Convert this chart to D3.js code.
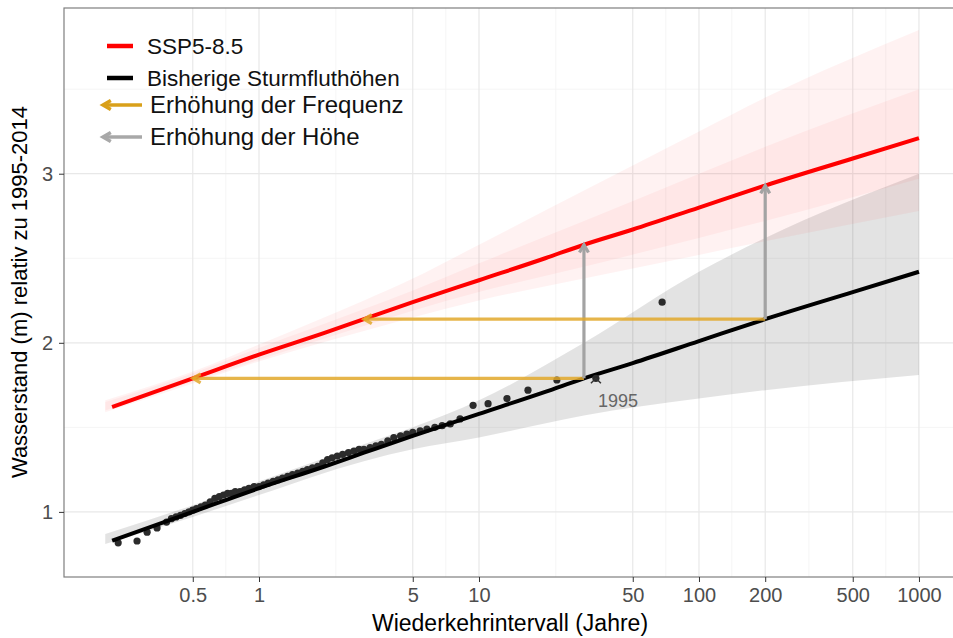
<!DOCTYPE html>
<html>
<head>
<meta charset="utf-8">
<script src="https://cdn.jsdelivr.net/npm/d3@7"></script>
<style>
  body { margin: 0; background: #fff; }
  text { font-family: "Liberation Sans", Arial, Helvetica, sans-serif; }
</style>
</head>
<body>
<div id="chart"></div>
<script>
// return level curves (Wiederkehrintervall in Jahren -> Wasserstand in m)
var curveT      = [0.215, 0.5, 1, 2, 3, 5, 10, 20, 30, 50, 100, 200, 500, 1000];
var histLevel   = [0.83, 1.00, 1.14, 1.27, 1.35, 1.45, 1.58, 1.71, 1.79, 1.88, 2.01, 2.14, 2.30, 2.42];
var sspLevel    = [1.62, 1.79, 1.93, 2.06, 2.14, 2.24, 2.37, 2.50, 2.58, 2.67, 2.80, 2.93, 3.09, 3.21];

// uncertainty ribbons
var bandT       = [0.2, 0.5, 1, 3, 5, 10, 30, 100, 200, 1000];
var histLow     = [0.81, 0.97, 1.10, 1.30, 1.37, 1.44, 1.57, 1.67, 1.72, 1.81];
var histHigh    = [0.87, 1.04, 1.18, 1.40, 1.50, 1.66, 2.00, 2.42, 2.62, 3.00];
var sspLowOut   = [1.59, 1.76, 1.89, 2.07, 2.15, 2.25, 2.38, 2.52, 2.60, 2.78];
var sspHighOut  = [1.66, 1.83, 1.99, 2.25, 2.38, 2.58, 2.90, 3.25, 3.45, 3.85];
var sspLowIn    = [1.60, 1.77, 1.90, 2.10, 2.19, 2.30, 2.45, 2.62, 2.72, 2.97];
var sspHighIn   = [1.65, 1.82, 1.97, 2.20, 2.31, 2.47, 2.72, 3.00, 3.16, 3.50];

// observed storm surges
var obsT     = [0.229, 0.279, 0.31, 0.344, 0.38, 0.40, 0.42, 0.44, 0.46, 0.48, 0.50, 0.52, 0.545,
                0.57, 0.60, 0.63, 0.66, 0.69, 0.72, 0.75, 0.78, 0.82, 0.86, 0.90, 0.95, 1.0,
                1.05, 1.10, 1.16, 1.22, 1.28, 1.35, 1.42, 1.50, 1.58, 1.66, 1.75, 1.85, 1.95,
                2.05, 2.15, 2.27, 2.40, 2.55, 2.70, 2.85, 3.0, 3.2, 3.4, 3.6, 3.85, 4.1, 4.4,
                4.7, 5.0, 5.4, 5.8, 6.3, 6.8, 7.4, 8.2, 9.4, 11, 13.4, 16.7, 22.6, 68];
var obsLevel = [0.817, 0.828, 0.88, 0.905, 0.94, 0.96, 0.97, 0.98, 0.99, 1.00, 1.01, 1.02, 1.03,
                1.04, 1.06, 1.08, 1.09, 1.10, 1.11, 1.11, 1.12, 1.12, 1.13, 1.14, 1.15, 1.15,
                1.16, 1.17, 1.18, 1.19, 1.20, 1.21, 1.22, 1.23, 1.24, 1.25, 1.26, 1.27, 1.29,
                1.31, 1.32, 1.33, 1.34, 1.35, 1.36, 1.37, 1.37, 1.38, 1.39, 1.40, 1.42, 1.44, 1.45,
                1.46, 1.47, 1.48, 1.49, 1.50, 1.51, 1.52, 1.55, 1.63, 1.64, 1.67, 1.72, 1.78, 2.24];
var markT = [34], markLevel = [1.79], markLabel = ["1995"];

// arrows: frequency (horizontal) and height (vertical)
var arrowT      = [30, 200];
var arrowLevel  = [1.79, 2.14];
var freqToT     = [0.5, 3];
var heightTo    = [2.58, 2.93];

var xTicks = [0.5, 1, 5, 10, 50, 100, 200, 500, 1000];
var xMinor = [0.707, 2.236, 7.07, 22.36, 70.7, 141, 316, 707];
var yTicks = [1, 2, 3];
var yMinor = [1.5, 2.5, 3.5];

var legendLabels = ["SSP5-8.5", "Bisherige Sturmfluthöhen", "Erhöhung der Frequenz", "Erhöhung der Höhe"];

var W = 953, H = 638;
var P = {l: 64, t: 8, r: 962, b: 577};
var red = "#FF0000", gold = "#E2A82A", grey = "#A3A3A3";

var svg = d3.select("#chart").append("svg").attr("width", W).attr("height", H);
svg.append("rect").attr("width", W).attr("height", H).attr("fill", "#fff");

var x = d3.scaleLog().domain([0.1299, 1569]).range([P.l, P.r]);
var y = d3.scaleLinear().domain([0.615, 3.98]).range([P.b, P.t]);

svg.append("clipPath").attr("id", "clip").append("rect")
    .attr("x", P.l).attr("y", P.t).attr("width", P.r - P.l).attr("height", P.b - P.t);
var g = svg.append("g").attr("clip-path", "url(#clip)");

// grid
g.selectAll(".xminor").data(xMinor).enter().append("line")
    .attr("x1", function(d){ return x(d); }).attr("x2", function(d){ return x(d); })
    .attr("y1", P.t).attr("y2", P.b).attr("stroke", "#F3F3F3").attr("stroke-width", 0.8);
g.selectAll(".yminor").data(yMinor).enter().append("line")
    .attr("y1", function(d){ return y(d); }).attr("y2", function(d){ return y(d); })
    .attr("x1", P.l).attr("x2", P.r).attr("stroke", "#F3F3F3").attr("stroke-width", 0.8);
g.selectAll(".xmajor").data(xTicks).enter().append("line")
    .attr("x1", function(d){ return x(d); }).attr("x2", function(d){ return x(d); })
    .attr("y1", P.t).attr("y2", P.b).attr("stroke", "#E8E8E8").attr("stroke-width", 1.2);
g.selectAll(".ymajor").data(yTicks).enter().append("line")
    .attr("y1", function(d){ return y(d); }).attr("y2", function(d){ return y(d); })
    .attr("x1", P.l).attr("x2", P.r).attr("stroke", "#E8E8E8").attr("stroke-width", 1.2);

// ribbons
function ribbon(lo, hi){
    return d3.area().curve(d3.curveMonotoneX)
        .x(function(d, i){ return x(bandT[i]); })
        .y0(function(d, i){ return y(lo[i]); })
        .y1(function(d, i){ return y(hi[i]); })(bandT);
}
g.append("path").attr("d", ribbon(histLow, histHigh)).attr("fill", "#000").attr("fill-opacity", 0.11);
g.append("path").attr("d", ribbon(sspLowOut, sspHighOut)).attr("fill", red).attr("fill-opacity", 0.05);
g.append("path").attr("d", ribbon(sspLowIn, sspHighIn)).attr("fill", red).attr("fill-opacity", 0.045);

// observations
g.selectAll(".obs").data(obsT).enter().append("circle")
    .attr("cx", function(d){ return x(d); })
    .attr("cy", function(d, i){ return y(obsLevel[i]); })
    .attr("r", 3.6).attr("fill", "#2b2b2b");

// curves
var line = d3.line().curve(d3.curveMonotoneX)
    .x(function(d){ return x(d); });
g.append("path").attr("d", line.y(function(d, i){ return y(histLevel[i]); })(curveT))
    .attr("fill", "none").attr("stroke", "#000").attr("stroke-width", 4);
g.append("path").attr("d", line.y(function(d, i){ return y(sspLevel[i]); })(curveT))
    .attr("fill", "none").attr("stroke", red).attr("stroke-width", 4);

// open arrow
function arrow(sel, x1, y1, x2, y2, col, w, op){
    var a = Math.atan2(y2 - y1, x2 - x1), L = 9, s = Math.PI / 6;
    var grp = sel.append("g").attr("stroke", col).attr("stroke-width", w)
        .attr("fill", "none").attr("stroke-opacity", op);
    grp.append("line").attr("x1", x1).attr("y1", y1).attr("x2", x2).attr("y2", y2);
    grp.append("path").attr("stroke-linejoin", "miter")
        .attr("d", "M" + (x2 - L * Math.cos(a - s)) + "," + (y2 - L * Math.sin(a - s)) +
              "L" + x2 + "," + y2 +
              "L" + (x2 - L * Math.cos(a + s)) + "," + (y2 - L * Math.sin(a + s)));
}
arrowT.forEach(function(t, i){
    arrow(g, x(t), y(arrowLevel[i]), x(freqToT[i]), y(arrowLevel[i]), gold, 3.2, 0.85);
    arrow(g, x(t), y(arrowLevel[i]), x(t), y(heightTo[i]), grey, 3.2, 1);
});

// 1995 marker
markT.forEach(function(t, i){
    var cx = x(t), cy = y(markLevel[i]);
    g.append("circle").attr("cx", cx).attr("cy", cy).attr("r", 3.6).attr("fill", "#2b2b2b");
    g.append("path").attr("d", "M" + (cx - 5) + "," + (cy + 5) + "L" + cx + "," + cy + "L" + (cx + 5) + "," + (cy + 5))
        .attr("stroke", "#333").attr("stroke-width", 1.5).attr("fill", "none");
    g.append("text").attr("x", cx + 2).attr("y", cy + 29).text(markLabel[i])
        .attr("font-size", 18).attr("fill", "#666");
});

// panel border
svg.append("rect").attr("x", P.l).attr("y", P.t).attr("width", P.r - P.l).attr("height", P.b - P.t)
    .attr("fill", "none").attr("stroke", "#7F7F7F").attr("stroke-width", 1.2);

// axes
var xAxis = svg.append("g").attr("transform", "translate(0," + P.b + ")")
    .call(d3.axisBottom(x).tickValues(xTicks).tickFormat(function(d){ return d; })
          .tickSize(5).tickPadding(6));
var yAxis = svg.append("g").attr("transform", "translate(" + P.l + ",0)")
    .call(d3.axisLeft(y).tickValues(yTicks).tickFormat(d3.format("d")).tickSize(5).tickPadding(6));
[xAxis, yAxis].forEach(function(a){
    a.select(".domain").remove();
    a.selectAll(".tick line").attr("stroke", "#333");
    a.selectAll(".tick text").attr("fill", "#4D4D4D").attr("font-size", 20)
        .style("font-family", "'Liberation Sans', Arial, sans-serif");
});

svg.append("text").attr("x", 510).attr("y", 631).attr("text-anchor", "middle")
    .attr("font-size", 23).text("Wiederkehrintervall (Jahre)");
svg.append("text").attr("transform", "translate(27,292) rotate(-90)")
    .attr("text-anchor", "middle").attr("font-size", 22).text("Wasserstand (m) relativ zu 1995-2014");

// legend
var leg = svg.append("g");
var keyY = [46, 78, 105, 137], textY = [54, 86, 113, 145], textX = [147, 147, 150, 150];
var sizes = [22.5, 22.5, 24, 24];
leg.append("line").attr("x1", 107).attr("x2", 133).attr("y1", keyY[0]).attr("y2", keyY[0])
    .attr("stroke", red).attr("stroke-width", 4.5);
leg.append("line").attr("x1", 107).attr("x2", 133).attr("y1", keyY[1]).attr("y2", keyY[1])
    .attr("stroke", "#000").attr("stroke-width", 4.5);
arrow(leg, 142, keyY[2], 103, keyY[2], "#D9A01A", 3.5, 1);
arrow(leg, 142, keyY[3], 103, keyY[3], "#A8A8A8", 3.5, 1);
leg.selectAll("text").data(legendLabels).enter().append("text")
    .attr("x", function(d, i){ return textX[i]; })
    .attr("y", function(d, i){ return textY[i]; })
    .attr("font-size", function(d, i){ return sizes[i]; })
    .attr("fill", "#111").text(function(d){ return d; });
</script>
</body>
</html>
